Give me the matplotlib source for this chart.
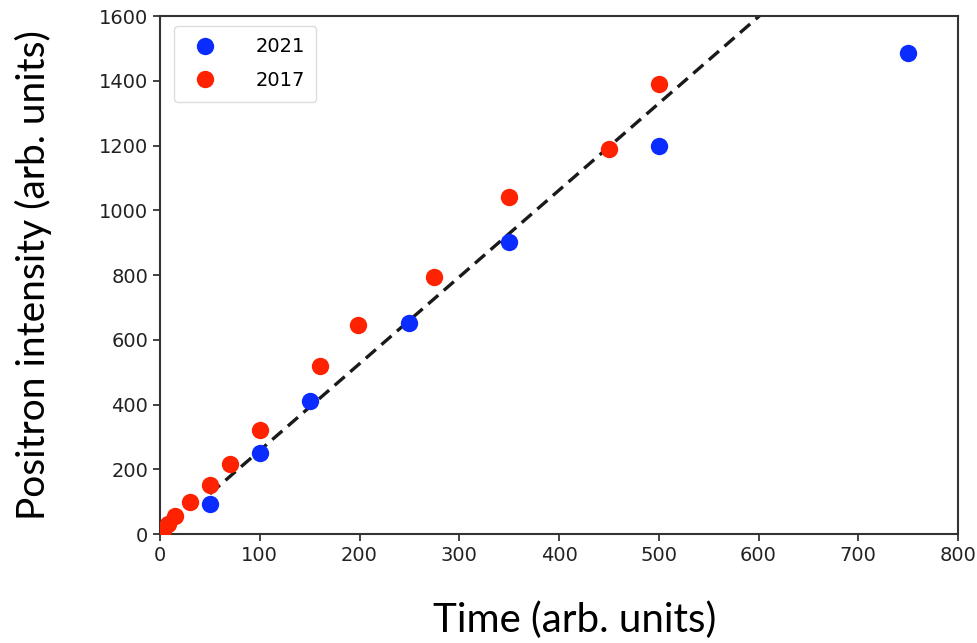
import matplotlib
matplotlib.use('Agg')
import matplotlib.pyplot as plt
import numpy as np

# data
t_2021 = [50, 100, 150, 250, 350, 500, 750]
p_2021 = [92, 250, 410, 652, 903, 1198, 1486]

t_2017 = [3, 8, 15, 30, 50, 70, 100, 160, 198, 275, 350, 450, 500]
p_2017 = [12, 32, 57, 100, 151, 216, 321, 519, 646, 794, 1041, 1189, 1390]

# dashed guide line
fit_slope = 2.68
fit_offset = -10
fit_t = np.array([50, 620])

plt.rcParams['font.size'] = 14

fig = plt.figure(figsize=(9.78, 6.43), dpi=100)
ax = fig.add_axes([0.1636, 0.1695, 0.816, 0.8056])

ax.plot(fit_t, fit_slope * fit_t + fit_offset, '--', color='#1a1a1a', lw=2.4,
        dashes=(4, 2.2), zorder=2)
ax.plot(t_2021, p_2021, 'o', color='#0a2cff', ms=12.5, mec='none', label='2021', zorder=3)
ax.plot(t_2017, p_2017, 'o', color='#ff2200', ms=12.5, mec='none', label='2017', zorder=3)

ax.set_xlim(0, 800)
ax.set_ylim(0, 1600)
ax.set_xticks(np.arange(0, 801, 100))
ax.set_yticks(np.arange(0, 1601, 200))
ax.tick_params(labelsize=14, colors='#222222', length=5, width=1.2)
for s in ax.spines.values():
    s.set_color('#333333')
    s.set_linewidth(1.5)

ax.set_xlabel('Time (arb. units)', family='Lato', fontsize=29, va='center')
ax.set_ylabel('Positron intensity (arb. units)', family='Lato', fontsize=28, va='center')
ax.xaxis.set_label_coords(0.52, -0.166)
ax.yaxis.set_label_coords(-0.158, 0.50)

ax.legend(loc='upper left', fontsize=14, handletextpad=1.6, borderpad=0.6,
          labelspacing=0.75, framealpha=1, edgecolor='#dddddd',
          bbox_to_anchor=(0.005, 1.0))

fig.savefig('out.png', dpi=100)
